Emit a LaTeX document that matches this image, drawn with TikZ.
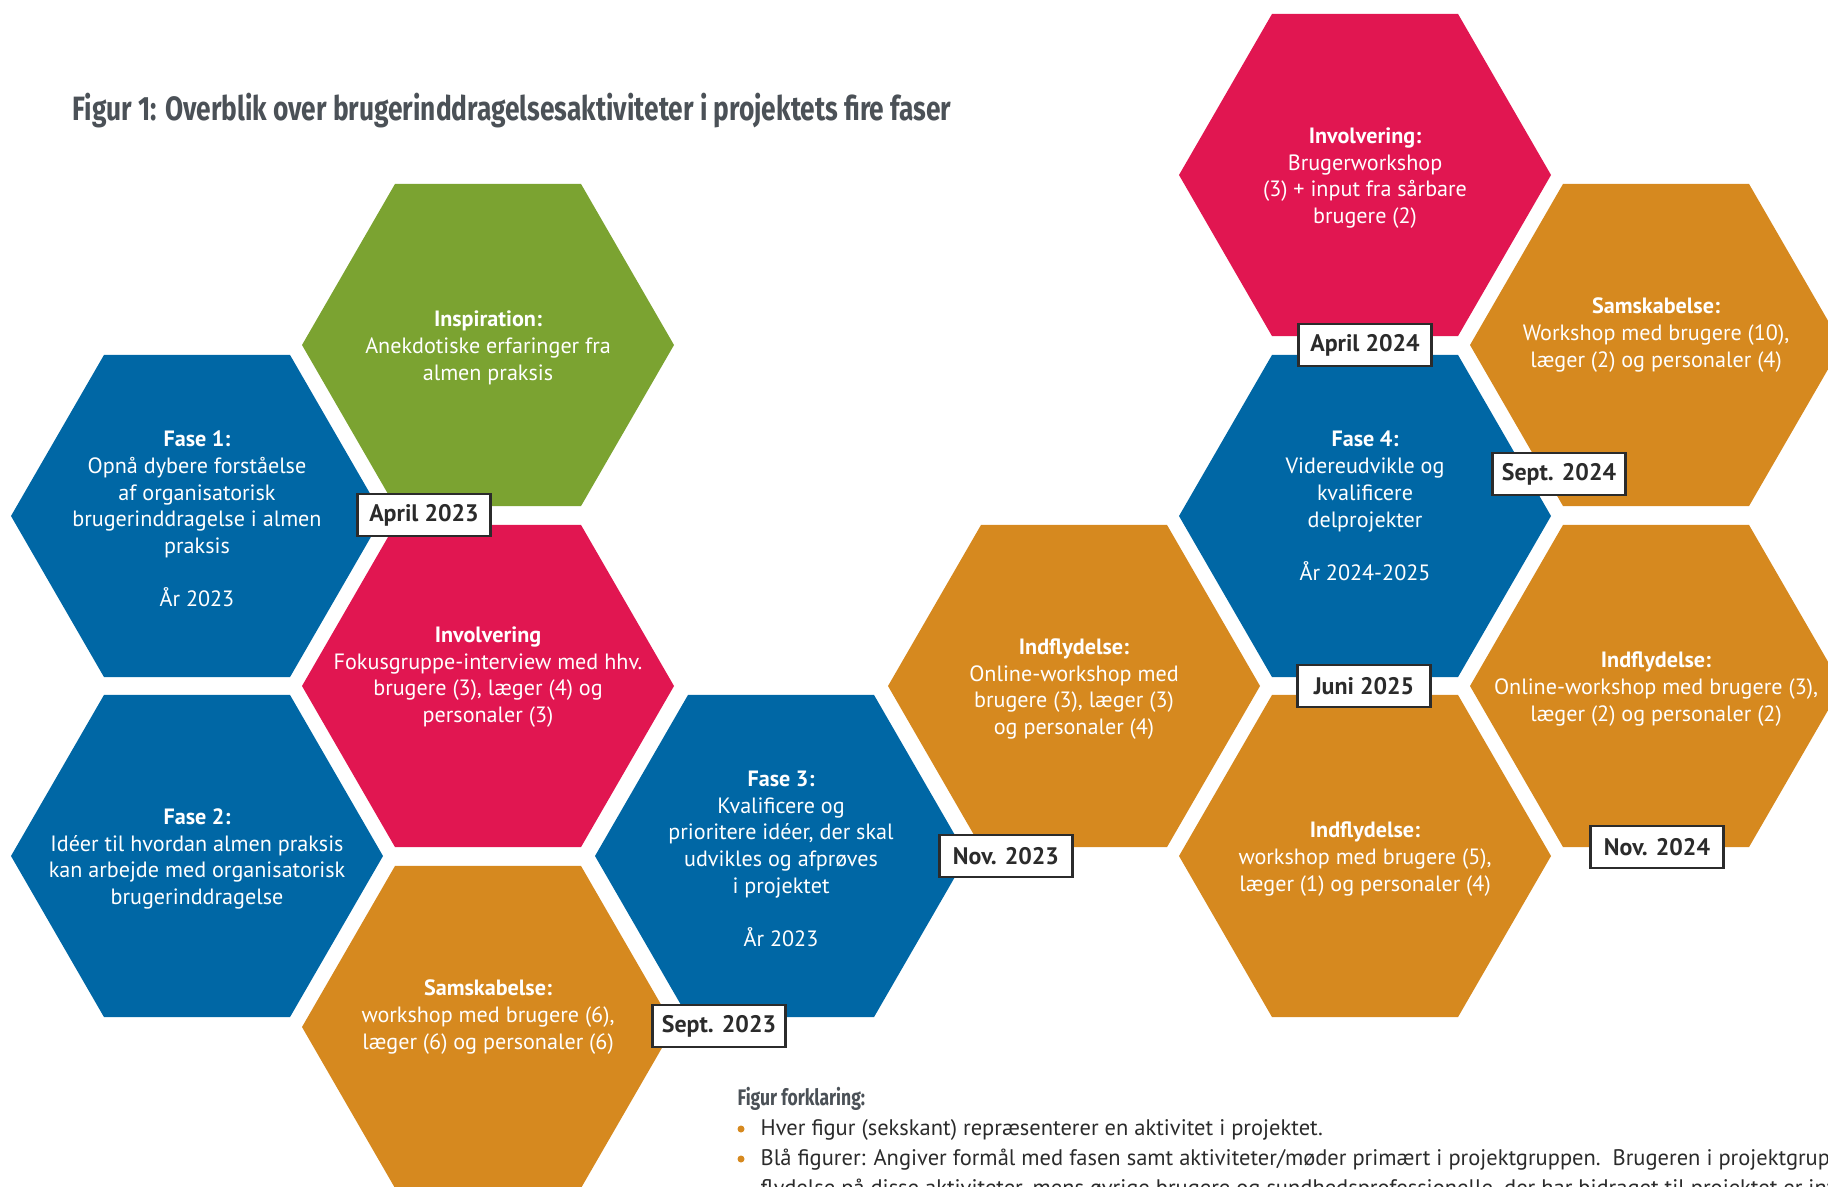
\documentclass[tikz,border=0pt]{standalone}
\usepackage{fontspec}
\setmainfont{PT Sans}
\newfontfamily\titlefont[FakeStretch=0.78]{Fira Sans}
\usepackage{tikz}
\usetikzlibrary{shapes.geometric}
\definecolor{fblue}{HTML}{0067A5}
\definecolor{fgreen}{HTML}{7BA331}
\definecolor{fpink}{HTML}{E11651}
\definecolor{forange}{HTML}{D6891F}
\definecolor{fgray}{HTML}{4B5157}
\definecolor{fdark}{HTML}{2B2B2B}
\tikzstyle{hex}=[regular polygon, regular polygon sides=6, minimum size=3.72cm, inner sep=0pt, outer sep=0pt]
\tikzstyle{hextext}=[text=white, align=center, inner sep=0pt, yshift=-0.03cm, font=\fontsize{6.3}{7.6}\selectfont]
\tikzstyle{date}=[draw=fdark, fill=white, line width=0.7pt, minimum width=1.33cm, minimum height=0.42cm, inner sep=0pt, text=fdark, font=\bfseries\fontsize{6.8}{7}\selectfont]

\begin{document}
\begin{tikzpicture}[blue/.style={fill=fblue}, green/.style={fill=fgreen},
                    pink/.style={fill=fpink}, orange/.style={fill=forange}]

    \useasboundingbox (0,0) rectangle (18.28,-11.86);
    \clip (0,0) rectangle (18.28,-11.86);

    % title
    \node[anchor=west, inner sep=0pt, text=fgray, font=\titlefont\bfseries\fontsize{9.6}{11}\selectfont] (title) at (0.72,-1.11) {Figur 1: Overblik over brugerinddragelsesaktiviteter i projektets fire faser};

    % phase 1 and 2
    \node[hex, green] (insp) at (4.88,-3.45) {};
    \node[hex, blue] (fase1) at (1.97,-5.16) {};
    \node[hex, pink] (inv1) at (4.88,-6.86) {};
    \node[hex, blue] (fase2) at (1.97,-8.56) {};
    \node[hex, orange] (sam1) at (4.88,-10.27) {};
    % phase 3
    \node[hex, blue] (fase3) at (7.81,-8.56) {};
    \node[hex, orange] (indf1) at (10.74,-6.86) {};
    % phase 4
    \node[hex, pink] (inv2) at (13.65,-1.75) {};
    \node[hex, blue] (fase4) at (13.65,-5.16) {};
    \node[hex, orange] (indf3) at (13.65,-8.56) {};
    \node[hex, orange] (sam2) at (16.56,-3.45) {};
    \node[hex, orange] (indf2) at (16.56,-6.86) {};

    % texts in the hexagons
    \node[hextext] (tinsp) at (insp) {\textbf{Inspiration:}\\Anekdotiske erfaringer fra\\almen praksis};
    \node[hextext] (tfase1) at (fase1) {\textbf{Fase 1:}\\Opnå dybere forståelse\\af organisatorisk\\brugerinddragelse i almen\\praksis\\[7.6pt]År 2023};
    \node[hextext, yshift=0.12cm] (tinv1) at (inv1) {\textbf{Involvering}\\Fokusgruppe-interview med hhv.\\brugere (3), læger (4) og\\personaler (3)};
    \node[hextext] (tfase2) at (fase2) {\textbf{Fase 2:}\\Idéer til hvordan almen praksis\\kan arbejde med organisatorisk\\brugerinddragelse};
    \node[hextext, yshift=0.13cm] (tsam1) at (sam1) {\textbf{Samskabelse:}\\workshop med brugere (6),\\læger (6) og personaler (6)};
    \node[hextext] (tfase3) at (fase3) {\textbf{Fase 3:}\\Kvalificere og\\prioritere idéer, der skal\\udvikles og afprøves\\i projektet\\[7.6pt]År 2023};
    \node[hextext] (tindf1) at (indf1) {\textbf{Indflydelse:}\\Online-workshop med\\brugere (3), læger (3)\\og personaler (4)};
    \node[hextext] (tinv2) at (inv2) {\textbf{Involvering:}\\Brugerworkshop\\(3) + input fra sårbare\\brugere (2)};
    \node[hextext, yshift=0.13cm] (tfase4) at (fase4) {\textbf{Fase 4:}\\Videreudvikle og\\kvalificere\\delprojekter\\[7.6pt]År 2024-2025};
    \node[hextext] (tindf3) at (indf3) {\textbf{Indflydelse:}\\workshop med brugere (5),\\læger (1) og personaler (4)};
    \node[hextext, yshift=0.13cm] (tsam2) at (sam2) {\textbf{Samskabelse:}\\Workshop med brugere (10),\\læger (2) og personaler (4)};
    \node[hextext] (tindf2) at (indf2) {\textbf{Indflydelse:}\\Online-workshop med brugere (3),\\læger (2) og personaler (2)};

    % dates
    \node[date] (apr23) at (4.24,-5.15) {April 2023};
    \node[date] (sep23) at (7.19,-10.26) {Sept. 2023};
    \node[date] (nov23) at (10.06,-8.56) {Nov. 2023};
    \node[date] (apr24) at (13.65,-3.45) {April 2024};
    \node[date] (sep24) at (15.59,-4.74) {Sept. 2024};
    \node[date] (jun25) at (13.64,-6.86) {Juni 2025};
    \node[date] (nov24) at (16.57,-8.47) {Nov. 2024};

    % legend
    \node[anchor=west, inner sep=0pt, text=fgray, font=\titlefont\bfseries\fontsize{6.4}{7}\selectfont] (leg) at (7.37,-10.99) {Figur forklaring:};
    \fill[forange] (7.41,-11.29) circle (0.035) coordinate (b1);
    \fill[forange] (7.41,-11.59) circle (0.035) coordinate (b2);
    \node[anchor=west, inner sep=0pt, text=fdark, font=\fontsize{6.4}{7.6}\selectfont] (leg1) at (7.60,-11.30) {Hver figur (sekskant) repræsenterer en aktivitet i projektet.};
    \node[anchor=west, inner sep=0pt, text=fdark, font=\fontsize{6.4}{7.6}\selectfont] (leg2) at (7.60,-11.60) {Blå figurer: Angiver formål med fasen samt aktiviteter/møder primært i projektgruppen.\ \ Brugeren i projektgruppen};
    \node[anchor=west, inner sep=0pt, text=fdark, font=\fontsize{6.4}{7.6}\selectfont] (leg3) at (7.60,-11.90) {flydelse på disse aktiviteter, mens øvrige brugere og sundhedsprofessionelle, der har bidraget til projektet er inv};
\end{tikzpicture}
\end{document}
